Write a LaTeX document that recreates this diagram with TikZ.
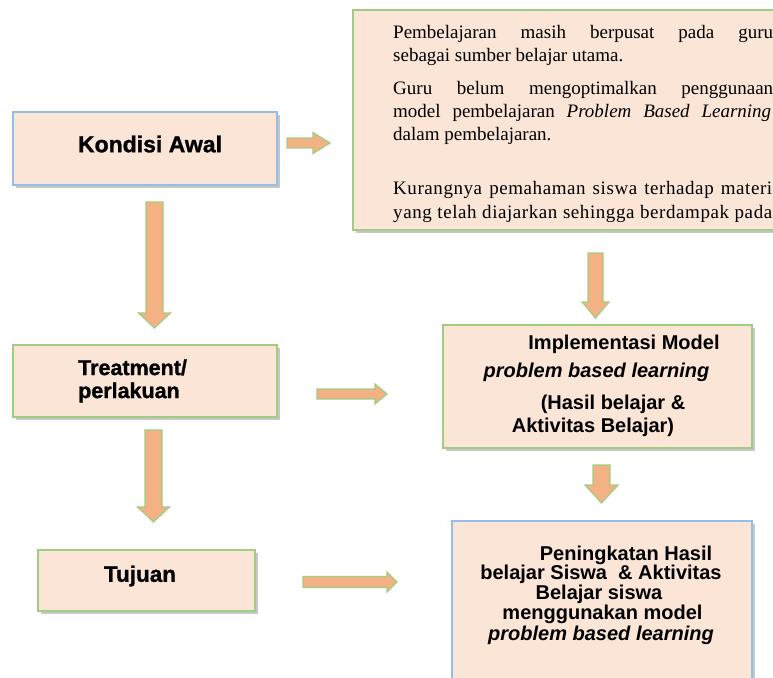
\documentclass[tikz,border=0pt]{standalone}
\usepackage{fontspec}
\setmainfont{Liberation Serif}
\newfontfamily\arialf{Liberation Sans}
\newfontfamily\arialheavy[FakeBold=1.2]{Liberation Sans Bold}
\newfontfamily\serifwide[LetterSpace=3]{Liberation Serif}
\usetikzlibrary{shadows}
\definecolor{boxfill}{RGB}{251,229,214}
\definecolor{arrowfill}{RGB}{244,177,131}
\definecolor{arrowedge}{RGB}{160,205,130}
\definecolor{greenedge}{RGB}{160,205,130}
\definecolor{blueedge}{RGB}{150,190,228}
\newcommand\rblock[6]{\draw[barrow] (#1,#4-#5) -- (#3,#4-#5) -- (#3,#4-#6) -- (#2,#4) -- (#3,#4+#6) -- (#3,#4+#5) -- (#1,#4+#5) -- cycle;}
\newcommand\dblock[6]{\draw[barrow] (#4-#5,#1) -- (#4-#5,#3) -- (#4-#6,#3) -- (#4,#2) -- (#4+#6,#3) -- (#4+#5,#3) -- (#4+#5,#1) -- cycle;}
\begin{document}
\begin{tikzpicture}[x=1pt,y=-1pt,
  box/.style={draw=greenedge, line width=1.3pt, fill=boxfill, inner sep=0pt,
    drop shadow={shadow xshift=3pt, shadow yshift=-3pt, opacity=0.4, fill=black!55}},
  bluebox/.style={box, draw=blueedge},
  barrow/.style={draw=arrowedge, line width=1.2pt, fill=arrowfill, line join=miter},
  headtxt/.style={font=\arialheavy\fontsize{21.5}{23}\selectfont, inner sep=0pt},
  midtxt/.style={font=\arialf\bfseries\fontsize{20}{20}\selectfont, inner sep=0pt, anchor=base},
  sertxt/.style={font=\fontsize{19}{23}\selectfont, inner sep=0pt, anchor=base west}]
\useasboundingbox (0,0) rectangle (773,677);
\fill[white] (0,0) rectangle (773,677);

% boxes
\node[bluebox, minimum width=264pt, minimum height=73pt] (kondisi) at (145,148.5) {};
\node[box, minimum width=467pt, minimum height=220pt] (masalah) at (586.5,120) {};
\node[box, minimum width=264pt, minimum height=72pt] (treat) at (145,381) {};
\node[box, minimum width=217pt, minimum height=61pt] (tujuan) at (146.5,580.5) {};
\node[box, minimum width=309pt, minimum height=123pt] (impl) at (597.5,386.5) {};
\node[bluebox, minimum width=300pt, minimum height=179pt] (hasil) at (602,610.5) {};

% texts left column
\node[headtxt, font=\arialheavy\fontsize{23}{23}\selectfont] (tk) at (150,144) {Kondisi Awal};
\node[headtxt, anchor=west, align=left] (tt) at (78,381) {Treatment/\\perlakuan};
\node[headtxt, font=\arialheavy\fontsize{22.5}{23}\selectfont] (tj) at (140,576) {Tujuan};

% top-right text
\node[sertxt] (m1) at (393,38) {\makebox[380pt][s]{Pembelajaran masih berpusat pada guru}};
\node[sertxt] (m2) at (393,61) {sebagai sumber belajar utama.};
\node[sertxt] (m3) at (393,94) {\makebox[380pt][s]{Guru belum mengoptimalkan penggunaan}};
\node[sertxt] (m4) at (393,117) {\makebox[378pt][s]{model pembelajaran \textit{Problem Based Learning}}};
\node[sertxt] (m5) at (393,140) {dalam pembelajaran.};
\node[sertxt, font=\serifwide\fontsize{19}{23}\selectfont] (m6) at (393,194) {\makebox[379pt][s]{Kurangnya pemahaman siswa terhadap materi}};
\node[sertxt, font=\serifwide\fontsize{19}{23}\selectfont] (m7) at (393,218) {\makebox[379pt][s]{yang telah diajarkan sehingga berdampak pada}};

% implementation text
\node[midtxt] (i1) at (624,349) {Implementasi Model};
\node[midtxt] (i2) at (596.5,377) {\itshape problem based learning};
\node[midtxt] (i3) at (613,409) {(Hasil belajar \&};
\node[midtxt] (i4) at (593,432) {Aktivitas Belajar)};

% result text
\node[midtxt] (h1) at (626,560) {Peningkatan Hasil};
\node[midtxt] (h2) at (601,579) {belajar Siswa \ \& Aktivitas};
\node[midtxt] (h3) at (599,599) {Belajar siswa};
\node[midtxt] (h4) at (602.5,619) {menggunakan model};
\node[midtxt] (h5) at (601,640) {\itshape problem based learning};

% block arrows
\rblock{287}{330}{313}{143}{5}{10.5}
\rblock{317}{387}{375}{394}{5}{10}
\rblock{303}{397}{387}{582}{5.5}{10}
\dblock{202}{328}{313}{154.5}{8.5}{16}
\dblock{430}{522}{507}{153.5}{8.5}{16}
\dblock{253}{318}{302}{595.5}{7.5}{13.5}
\dblock{465}{503}{485}{601.5}{8.5}{16.5}
\end{tikzpicture}
\end{document}
